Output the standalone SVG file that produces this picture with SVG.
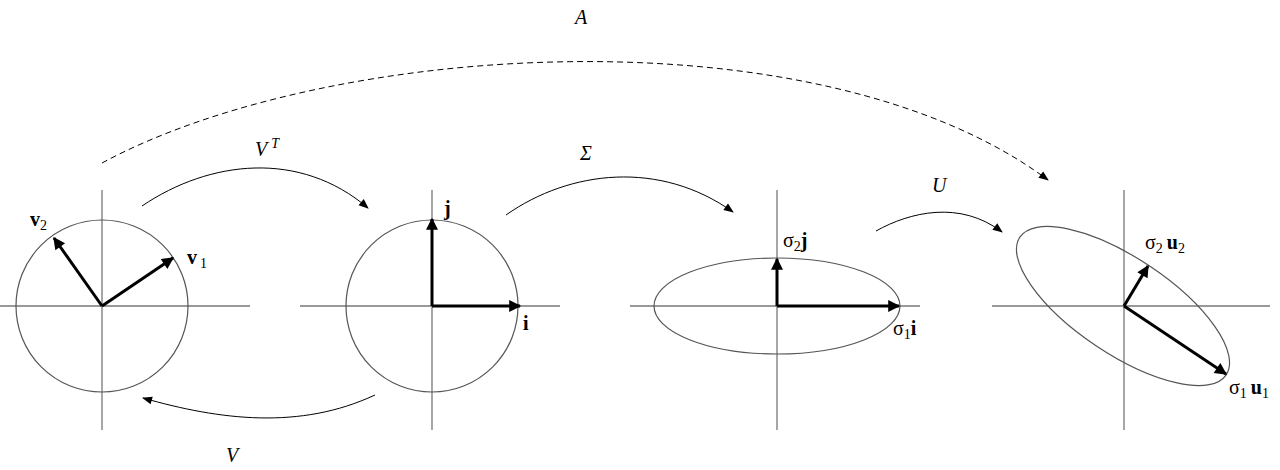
<svg xmlns="http://www.w3.org/2000/svg" width="1280" height="470" viewBox="0 0 1280 470">
<style>
.ax{stroke:#777;stroke-width:1.3;fill:none}
.sh{stroke:#555;stroke-width:1.2;fill:none}
.vec{stroke:#000;stroke-width:3;fill:none;marker-end:url(#ah)}
.cur{stroke:#000;stroke-width:1;fill:none;marker-end:url(#sa)}
text{font-family:"Liberation Serif",serif;font-size:20px;fill:#000}
.b{font-weight:bold}
.i{font-style:italic}
</style>
<defs>
<marker id="ah" viewBox="0 0 10 10" refX="9" refY="5" markerWidth="5" markerHeight="4" orient="auto" markerUnits="strokeWidth"><path d="M0,0 L10,5 L0,10 Z"/></marker>
<marker id="sa" viewBox="0 0 10 10" refX="9" refY="5" markerWidth="16" markerHeight="10" orient="auto" markerUnits="strokeWidth"><path d="M0,1 L10,5 L0,9 Z"/></marker>
</defs>
<g id="panel1">
<line class="ax" x1="0" y1="306" x2="250" y2="306"/><line class="ax" x1="102" y1="190" x2="102" y2="430"/>
<circle class="sh" cx="102" cy="306" r="86"/>
<line class="vec" x1="102" y1="306" x2="173" y2="258"/>
<line class="vec" x1="102" y1="306" x2="54" y2="238"/>
<text x="187" y="264" class="b">v<tspan font-size="14" dx="3" dy="4" font-weight="normal">1</tspan></text>
<text x="30" y="226" class="b">v<tspan font-size="14" dy="4" font-weight="normal">2</tspan></text>
</g>
<g id="panel2">
<line class="ax" x1="300" y1="306" x2="560" y2="306"/><line class="ax" x1="432" y1="190" x2="432" y2="430"/>
<circle class="sh" cx="432" cy="306" r="86"/>
<line class="vec" x1="432" y1="306" x2="432" y2="219"/>
<line class="vec" x1="432" y1="306" x2="520" y2="306"/>
<text x="444" y="215" class="b">j</text>
<text x="523" y="330" class="b">i</text>
</g>
<g id="panel3">
<line class="ax" x1="630" y1="306" x2="920" y2="306"/><line class="ax" x1="777" y1="190" x2="777" y2="430"/>
<ellipse class="sh" cx="777" cy="306" rx="123" ry="48"/>
<line class="vec" x1="777" y1="306" x2="777" y2="259"/>
<line class="vec" x1="777" y1="306" x2="899" y2="306"/>
<text x="783" y="247">σ<tspan font-size="14" dy="4">2</tspan><tspan class="b" dy="-4">j</tspan></text>
<text x="893" y="335">σ<tspan font-size="14" dy="4">1</tspan><tspan class="b" dy="-4">i</tspan></text>
</g>
<g id="panel4">
<line class="ax" x1="992" y1="306" x2="1270" y2="306"/><line class="ax" x1="1124" y1="190" x2="1124" y2="430"/>
<ellipse class="sh" cx="1123" cy="306" rx="124" ry="48" transform="rotate(33.7 1123 306)"/>
<line class="vec" x1="1124" y1="306" x2="1226" y2="374"/>
<line class="vec" x1="1124" y1="306" x2="1148" y2="266"/>
<text x="1145" y="249">σ<tspan font-size="14" dy="4">2</tspan><tspan class="b" dx="4" dy="-4">u</tspan><tspan font-size="14" dy="4">2</tspan></text>
<text x="1229" y="394">σ<tspan font-size="14" dy="4">1</tspan><tspan class="b" dx="4" dy="-4">u</tspan><tspan font-size="14" dy="4">1</tspan></text>
</g>
<g id="connectors">
<path class="cur" d="M142,206 C210,160 300,150 368,208"/>
<path class="cur" d="M506,215 C570,170 660,160 733,212"/>
<path class="cur" d="M876,231 C910,212 960,200 1002,232"/>
<path class="cur" d="M375,395 C300,430 220,420 143,398"/>
<path class="cur" d="M102,163 C330,40 820,10 1048,180" stroke-dasharray="6,4"/>
</g>
<g id="labels">
<text x="575" y="24" class="i">A</text>
<text x="255" y="156" class="i">V<tspan font-size="14" dx="4" dy="-8">T</tspan></text>
<text x="580" y="160" class="i">Σ</text>
<text x="932" y="192" class="i">U</text>
<text x="226" y="462" class="i">V</text>
</g>
</svg>
